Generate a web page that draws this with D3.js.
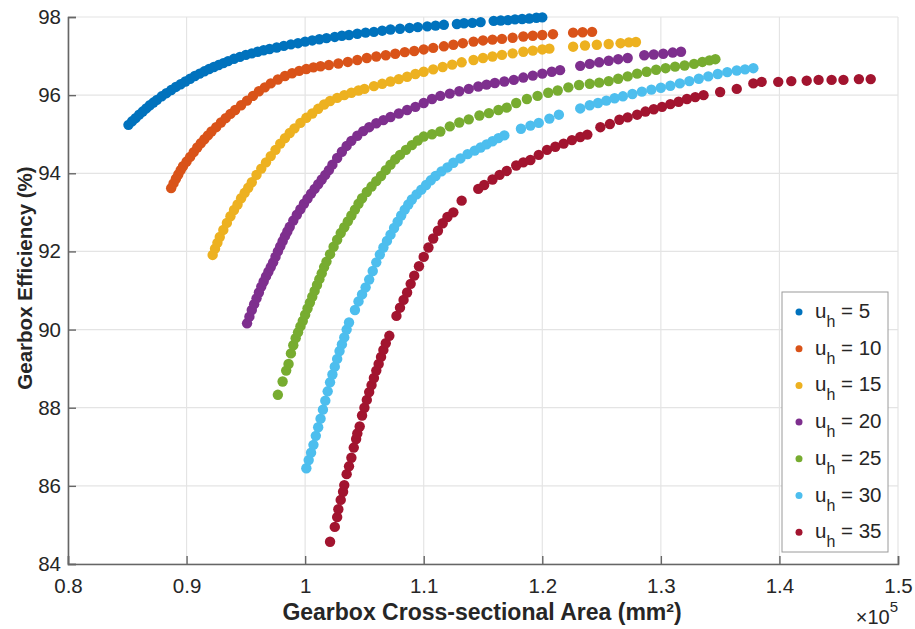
<!DOCTYPE html>
<html>
<head>
<meta charset="utf-8">
<script src="https://cdn.jsdelivr.net/npm/d3@7"></script>
<style>
  body { margin: 0; background: #fff; }
  text { font-family: "Liberation Sans", Arial, Helvetica, sans-serif; fill: #262626; }
</style>
</head>
<body>
<div id="chart"></div>
<script>
// values, x in units of 1e5 mm², y in %
const uh = [5, 10, 15, 20, 25, 30, 35]
const colors = ['#0072BD', '#D95319', '#EDB120', '#7E2F8E', '#77AC30', '#4DBEEE', '#A2142F']
const xTicks = [0.8, 0.9, 1.0, 1.1, 1.2, 1.3, 1.4, 1.5]
const yTicks = [84, 86, 88, 90, 92, 94, 96, 98]

const uh5 = [[0.851,95.24],[0.854,95.33],[0.857,95.41],[0.86,95.5],[0.863,95.58],[0.866,95.66],[0.869,95.74],[0.872,95.81],[0.875,95.88],[0.879,95.97],[0.883,96.05],[0.887,96.13],[0.891,96.21],[0.895,96.28],[0.899,96.35],[0.903,96.42],[0.907,96.49],[0.911,96.55],[0.915,96.61],[0.919,96.67],[0.923,96.72],[0.927,96.77],[0.931,96.82],[0.935,96.87],[0.94,96.93],[0.945,96.98],[0.95,97.03],[0.955,97.07],[0.96,97.11],[0.965,97.15],[0.97,97.18],[0.976,97.22],[0.982,97.26],[0.988,97.3],[0.994,97.33],[1.0,97.37],[1.006,97.4],[1.012,97.43],[1.018,97.46],[1.025,97.49],[1.031,97.52],[1.037,97.54],[1.044,97.57],[1.051,97.6],[1.058,97.62],[1.065,97.65],[1.072,97.68],[1.08,97.7],[1.088,97.72],[1.095,97.74],[1.103,97.76],[1.11,97.78],[1.117,97.8],[1.128,97.82],[1.134,97.84],[1.141,97.85],[1.148,97.87],[1.159,97.9],[1.165,97.91],[1.171,97.92],[1.177,97.94],[1.183,97.95],[1.189,97.96],[1.195,97.98],[1.2,97.99]]

const uh10 = [[0.887,93.62],[0.889,93.74],[0.891,93.86],[0.893,93.97],[0.895,94.08],[0.897,94.18],[0.9,94.3],[0.903,94.42],[0.906,94.54],[0.909,94.66],[0.912,94.77],[0.915,94.87],[0.918,94.97],[0.921,95.07],[0.925,95.18],[0.929,95.3],[0.933,95.41],[0.937,95.52],[0.941,95.62],[0.946,95.74],[0.951,95.86],[0.956,95.98],[0.961,96.1],[0.966,96.2],[0.971,96.3],[0.977,96.4],[0.983,96.49],[0.989,96.56],[0.995,96.62],[1.001,96.67],[1.007,96.71],[1.013,96.74],[1.02,96.77],[1.028,96.81],[1.036,96.85],[1.044,96.9],[1.052,96.95],[1.06,96.99],[1.068,97.02],[1.076,97.06],[1.084,97.1],[1.092,97.13],[1.1,97.17],[1.108,97.21],[1.117,97.25],[1.125,97.29],[1.133,97.33],[1.142,97.37],[1.15,97.4],[1.158,97.42],[1.166,97.44],[1.175,97.47],[1.184,97.5],[1.192,97.52],[1.2,97.54],[1.209,97.56],[1.226,97.6],[1.234,97.61],[1.242,97.62]]

const uh15 = [[0.922,91.91],[0.924,92.07],[0.926,92.22],[0.928,92.37],[0.931,92.55],[0.934,92.73],[0.937,92.9],[0.94,93.06],[0.943,93.2],[0.946,93.36],[0.949,93.5],[0.952,93.63],[0.955,93.77],[0.959,93.96],[0.963,94.12],[0.967,94.28],[0.971,94.44],[0.975,94.6],[0.979,94.76],[0.983,94.9],[0.987,95.03],[0.991,95.15],[0.996,95.29],[1.001,95.42],[1.006,95.53],[1.011,95.65],[1.016,95.76],[1.021,95.85],[1.027,95.93],[1.033,96.0],[1.039,96.06],[1.045,96.12],[1.05,96.16],[1.058,96.23],[1.065,96.29],[1.072,96.35],[1.079,96.41],[1.086,96.47],[1.093,96.54],[1.1,96.6],[1.108,96.66],[1.116,96.72],[1.124,96.78],[1.132,96.84],[1.142,96.9],[1.15,96.95],[1.158,96.99],[1.166,97.03],[1.175,97.07],[1.184,97.11],[1.192,97.14],[1.2,97.17],[1.206,97.19],[1.226,97.24],[1.236,97.27],[1.246,97.29],[1.256,97.31],[1.266,97.33],[1.273,97.35],[1.279,97.36]]

const uh20 = [[0.951,90.16],[0.953,90.33],[0.955,90.5],[0.957,90.65],[0.959,90.8],[0.961,90.95],[0.963,91.1],[0.965,91.23],[0.967,91.36],[0.969,91.48],[0.971,91.6],[0.973,91.72],[0.975,91.86],[0.977,92.0],[0.979,92.13],[0.981,92.26],[0.983,92.39],[0.985,92.51],[0.987,92.63],[0.99,92.79],[0.993,92.94],[0.996,93.08],[0.999,93.22],[1.002,93.35],[1.005,93.48],[1.008,93.6],[1.011,93.72],[1.014,93.84],[1.017,93.96],[1.02,94.08],[1.023,94.22],[1.027,94.39],[1.031,94.55],[1.035,94.7],[1.039,94.83],[1.044,94.96],[1.049,95.08],[1.054,95.18],[1.06,95.28],[1.066,95.36],[1.072,95.44],[1.079,95.53],[1.086,95.62],[1.093,95.7],[1.1,95.8],[1.107,95.9],[1.114,95.98],[1.122,96.04],[1.13,96.1],[1.138,96.16],[1.146,96.22],[1.153,96.27],[1.16,96.31],[1.168,96.35],[1.176,96.39],[1.184,96.45],[1.192,96.5],[1.2,96.55],[1.208,96.6],[1.215,96.64],[1.232,96.75],[1.24,96.8],[1.248,96.84],[1.256,96.88],[1.264,96.92],[1.272,96.95],[1.286,97.02],[1.294,97.04],[1.302,97.06],[1.31,97.09],[1.317,97.11]]

const uh25 = [[0.977,88.33],[0.981,88.67],[0.984,88.95],[0.986,89.12],[0.988,89.39],[0.99,89.6],[0.992,89.78],[0.994,89.93],[0.996,90.08],[0.998,90.22],[1.0,90.38],[1.002,90.54],[1.004,90.69],[1.006,90.84],[1.008,90.99],[1.01,91.14],[1.012,91.29],[1.014,91.44],[1.016,91.6],[1.018,91.74],[1.021,91.93],[1.024,92.12],[1.027,92.3],[1.03,92.47],[1.033,92.62],[1.036,92.77],[1.039,92.92],[1.042,93.07],[1.045,93.22],[1.048,93.36],[1.052,93.52],[1.056,93.66],[1.06,93.8],[1.064,93.93],[1.068,94.08],[1.072,94.22],[1.076,94.36],[1.08,94.47],[1.085,94.6],[1.09,94.72],[1.095,94.84],[1.1,94.94],[1.107,95.0],[1.114,95.07],[1.122,95.2],[1.13,95.3],[1.138,95.38],[1.147,95.48],[1.155,95.54],[1.163,95.62],[1.17,95.68],[1.178,95.8],[1.187,95.9],[1.196,95.98],[1.205,96.06],[1.213,96.12],[1.222,96.2],[1.231,96.26],[1.24,96.29],[1.248,96.32],[1.256,96.36],[1.264,96.42],[1.272,96.48],[1.28,96.55],[1.288,96.6],[1.296,96.65],[1.304,96.69],[1.312,96.73],[1.32,96.76],[1.328,96.8],[1.335,96.85],[1.341,96.89],[1.346,96.92]]

const uh30 = [[1.001,86.45],[1.003,86.66],[1.005,86.85],[1.007,87.05],[1.009,87.28],[1.011,87.5],[1.013,87.72],[1.015,87.95],[1.017,88.18],[1.019,88.42],[1.021,88.65],[1.023,88.85],[1.025,89.05],[1.027,89.25],[1.029,89.45],[1.031,89.62],[1.033,89.8],[1.035,90.0],[1.037,90.18],[1.042,90.5],[1.045,90.72],[1.048,90.9],[1.051,91.08],[1.054,91.28],[1.057,91.5],[1.06,91.72],[1.063,91.92],[1.066,92.1],[1.069,92.27],[1.072,92.43],[1.075,92.6],[1.078,92.76],[1.081,92.92],[1.084,93.07],[1.087,93.2],[1.09,93.33],[1.094,93.46],[1.098,93.58],[1.102,93.7],[1.106,93.82],[1.11,93.93],[1.115,94.05],[1.12,94.15],[1.125,94.27],[1.131,94.38],[1.137,94.49],[1.143,94.58],[1.148,94.66],[1.153,94.74],[1.158,94.82],[1.163,94.9],[1.168,94.97],[1.182,95.14],[1.19,95.22],[1.197,95.29],[1.206,95.4],[1.214,95.5],[1.232,95.66],[1.24,95.74],[1.247,95.8],[1.254,95.86],[1.261,95.92],[1.268,95.97],[1.276,96.03],[1.284,96.09],[1.292,96.14],[1.3,96.19],[1.308,96.24],[1.316,96.3],[1.324,96.36],[1.332,96.42],[1.34,96.48],[1.348,96.54],[1.356,96.59],[1.364,96.63],[1.371,96.66],[1.378,96.69]]

const uh35 = [[1.021,84.57],[1.025,84.95],[1.027,85.2],[1.028,85.4],[1.03,85.64],[1.032,85.85],[1.033,86.02],[1.035,86.3],[1.037,86.5],[1.039,86.72],[1.041,86.98],[1.043,87.2],[1.044,87.34],[1.046,87.52],[1.048,87.8],[1.05,88.0],[1.052,88.2],[1.054,88.4],[1.056,88.58],[1.058,88.76],[1.06,88.95],[1.062,89.12],[1.064,89.3],[1.066,89.48],[1.068,89.65],[1.071,89.84],[1.077,90.35],[1.08,90.56],[1.083,90.76],[1.086,90.95],[1.089,91.17],[1.092,91.38],[1.096,91.62],[1.1,91.86],[1.104,92.1],[1.108,92.33],[1.112,92.53],[1.116,92.72],[1.12,92.88],[1.125,93.0],[1.132,93.3],[1.146,93.6],[1.151,93.7],[1.158,93.84],[1.164,93.96],[1.17,94.06],[1.178,94.2],[1.184,94.28],[1.19,94.34],[1.197,94.47],[1.204,94.6],[1.211,94.68],[1.218,94.76],[1.225,94.85],[1.232,94.93],[1.238,94.99],[1.249,95.18],[1.257,95.26],[1.265,95.37],[1.272,95.43],[1.28,95.5],[1.287,95.58],[1.294,95.64],[1.301,95.7],[1.308,95.77],[1.315,95.83],[1.322,95.9],[1.329,95.95],[1.336,96.0],[1.35,96.08],[1.364,96.16],[1.378,96.3],[1.385,96.34],[1.399,96.34],[1.41,96.36],[1.423,96.37],[1.433,96.39],[1.444,96.39],[1.454,96.39],[1.467,96.41],[1.477,96.41]]

const seriesData = [uh5, uh10, uh15, uh20, uh25, uh30, uh35]

const W = 915
const H = 629
const plot = { left: 68, right: 898, top: 17, bottom: 564 }

const svg = d3
  .select('#chart')
  .append('svg')
  .attr('width', W)
  .attr('height', H)

const x = d3.scaleLinear().domain([0.8, 1.5]).range([plot.left, plot.right])
const y = d3.scaleLinear().domain([84, 98]).range([plot.bottom, plot.top])

// grid
svg.append('g')
  .selectAll('line')
  .data(xTicks)
  .enter()
  .append('line')
  .attr('x1', d => x(d)).attr('x2', d => x(d))
  .attr('y1', plot.top).attr('y2', plot.bottom)
  .attr('stroke', '#e4e4e4')
  .attr('stroke-width', 1.2)

svg.append('g')
  .selectAll('line')
  .data(yTicks)
  .enter()
  .append('line')
  .attr('x1', plot.left).attr('x2', plot.right)
  .attr('y1', d => y(d)).attr('y2', d => y(d))
  .attr('stroke', '#e4e4e4')
  .attr('stroke-width', 1.2)

// axes, ticks pointing inward like MATLAB
const xAxis = d3.axisBottom(x)
  .tickValues(xTicks)
  .tickSize(-8)
  .tickPadding(14)
  .tickFormat(d => String(+d.toFixed(1)))

const yAxis = d3.axisLeft(y)
  .tickValues(yTicks)
  .tickSize(-8)
  .tickPadding(7)

const gx = svg.append('g')
  .attr('transform', 'translate(0,' + plot.bottom + ')')
  .call(xAxis)
const gy = svg.append('g')
  .attr('transform', 'translate(' + plot.left + ',0)')
  .call(yAxis)

;[gx, gy].forEach(g => {
  g.select('.domain').attr('stroke', '#666').attr('stroke-width', 1.6)
  g.selectAll('.tick line').attr('stroke', '#666').attr('stroke-width', 1.4)
  g.selectAll('.tick text')
    .attr('font-size', 20.5)
    .attr('fill', '#262626')
    .style('font-family', '"Liberation Sans", Arial, sans-serif')
})
gx.selectAll('.tick text').attr('dy', '0.71em')

// points
seriesData.forEach((pts, i) => {
  svg.append('g')
    .selectAll('circle')
    .data(pts)
    .enter()
    .append('circle')
    .attr('cx', d => x(d[0]))
    .attr('cy', d => y(d[1]))
    .attr('r', 5.2)
    .attr('fill', colors[i])
})

// axis labels
svg.append('text')
  .attr('x', 482)
  .attr('y', 620)
  .attr('text-anchor', 'middle')
  .attr('font-size', 23)
  .attr('font-weight', 'bold')
  .text('Gearbox Cross-sectional Area (mm²)')

svg.append('text')
  .attr('transform', 'translate(32,278) rotate(-90)')
  .attr('text-anchor', 'middle')
  .attr('font-size', 20.5)
  .attr('font-weight', 'bold')
  .text('Gearbox Efficiency (%)')

// exponent
const expo = svg.append('text')
  .attr('x', plot.right)
  .attr('y', 624)
  .attr('text-anchor', 'end')
  .attr('font-size', 20)
  .attr('fill', '#4d4d4d')
expo.append('tspan').text('×10')
expo.append('tspan').attr('dy', -12).attr('font-size', 15).text('5')

// legend
const legend = svg.append('g').attr('transform', 'translate(782,292)')
legend.append('rect')
  .attr('width', 106)
  .attr('height', 260)
  .attr('fill', '#fff')
  .attr('stroke', '#9a9a9a')
  .attr('stroke-width', 1)

const rows = legend.selectAll('g.row')
  .data(uh)
  .enter()
  .append('g')
  .attr('class', 'row')
  .attr('transform', (d, i) => 'translate(0,' + (20 + i * 36.7) + ')')

rows.append('circle')
  .attr('cx', 17)
  .attr('cy', 0)
  .attr('r', 3.5)
  .attr('fill', (d, i) => colors[i])

const label = rows.append('text')
  .attr('x', 33)
  .attr('y', 6)
  .attr('font-size', 20.5)
label.append('tspan').text('u')
label.append('tspan').attr('dy', 9).attr('font-size', 16).text('h')
label.append('tspan').attr('dy', -9).text(d => ' = ' + d)
</script>
</body>
</html>
